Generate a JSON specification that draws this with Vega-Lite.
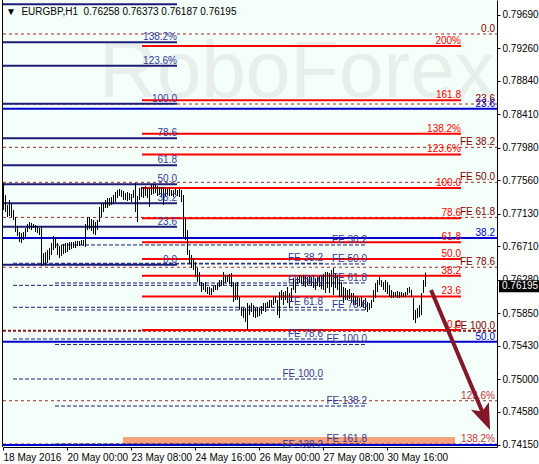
{
"$schema": "https://vega.github.io/schema/vega-lite/v6.json",
"width": 494, "height": 447,
"autosize": {"type": "none"},
"padding": {"left": 3, "top": 0, "right": 42, "bottom": 17},
"background": "#ffffff",
"config": {"view": {"fill": "#F5FFFA", "stroke": null}, "font": "Liberation Sans", "axis": {"grid": false, "labelOverlap": false, "labelFlush": false, "labelBound": false}},
"datasets": {
"bars": [
{"t":0,"h":0.77525,"l":0.77177},{"t":1,"h":0.77371,"l":0.77151},{"t":2,"h":0.77242,"l":0.77087},{"t":3,"h":0.77306,"l":0.77100},{"t":4,"h":0.77267,"l":0.77087},{"t":5,"h":0.77177,"l":0.77049},{"t":6,"h":0.77087,"l":0.76894},{"t":7,"h":0.76971,"l":0.76842},{"t":8,"h":0.76894,"l":0.76765},{"t":9,"h":0.76881,"l":0.76752},
{"t":10,"h":0.76894,"l":0.76791},{"t":11,"h":0.76945,"l":0.76829},{"t":12,"h":0.76997,"l":0.76894},{"t":13,"h":0.77023,"l":0.76932},{"t":14,"h":0.77010,"l":0.76920},{"t":15,"h":0.76997,"l":0.76945},{"t":16,"h":0.76984,"l":0.76894},{"t":17,"h":0.76971,"l":0.76881},{"t":18,"h":0.76945,"l":0.76855},{"t":19,"h":0.76971,"l":0.76455},
{"t":20,"h":0.76623,"l":0.76468},{"t":21,"h":0.76636,"l":0.76468},{"t":22,"h":0.76662,"l":0.76494},{"t":23,"h":0.76687,"l":0.76533},{"t":24,"h":0.76752,"l":0.76597},{"t":25,"h":0.76842,"l":0.76662},{"t":26,"h":0.76829,"l":0.76687},{"t":27,"h":0.76752,"l":0.76597},{"t":28,"h":0.76713,"l":0.76558},{"t":29,"h":0.76726,"l":0.76584},
{"t":30,"h":0.76739,"l":0.76610},{"t":31,"h":0.76752,"l":0.76623},{"t":32,"h":0.76752,"l":0.76636},{"t":33,"h":0.76765,"l":0.76662},{"t":34,"h":0.76765,"l":0.76674},{"t":35,"h":0.76765,"l":0.76687},{"t":36,"h":0.76778,"l":0.76687},{"t":37,"h":0.76778,"l":0.76713},{"t":38,"h":0.76778,"l":0.76713},{"t":39,"h":0.76791,"l":0.76726},
{"t":40,"h":0.76791,"l":0.76713},{"t":41,"h":0.76997,"l":0.76700},{"t":42,"h":0.77087,"l":0.76920},{"t":43,"h":0.77087,"l":0.76932},{"t":44,"h":0.77061,"l":0.76907},{"t":45,"h":0.77049,"l":0.76868},{"t":46,"h":0.77023,"l":0.76855},{"t":47,"h":0.77049,"l":0.76920},{"t":48,"h":0.77216,"l":0.77023},{"t":49,"h":0.77267,"l":0.77087},
{"t":50,"h":0.77267,"l":0.77151},{"t":51,"h":0.77306,"l":0.77203},{"t":52,"h":0.77332,"l":0.77203},{"t":53,"h":0.77332,"l":0.77229},{"t":54,"h":0.77345,"l":0.77242},{"t":55,"h":0.77371,"l":0.77254},{"t":56,"h":0.77409,"l":0.77280},{"t":57,"h":0.77435,"l":0.77332},{"t":58,"h":0.77448,"l":0.77358},{"t":59,"h":0.77435,"l":0.77345},
{"t":60,"h":0.77422,"l":0.77306},{"t":61,"h":0.77396,"l":0.77306},{"t":62,"h":0.77409,"l":0.77293},{"t":63,"h":0.77396,"l":0.77306},{"t":64,"h":0.77383,"l":0.77280},{"t":65,"h":0.77435,"l":0.77332},{"t":66,"h":0.77525,"l":0.77151},{"t":67,"h":0.77358,"l":0.77023},{"t":68,"h":0.77461,"l":0.77306},{"t":69,"h":0.77474,"l":0.77345},
{"t":70,"h":0.77474,"l":0.77332},{"t":71,"h":0.77487,"l":0.77358},{"t":72,"h":0.77461,"l":0.77332},{"t":73,"h":0.77461,"l":0.77216},{"t":74,"h":0.77500,"l":0.77371},{"t":75,"h":0.77512,"l":0.77383},{"t":76,"h":0.77500,"l":0.77396},{"t":77,"h":0.77487,"l":0.77358},{"t":78,"h":0.77474,"l":0.77371},{"t":79,"h":0.77474,"l":0.77345},
{"t":80,"h":0.77474,"l":0.77242},{"t":81,"h":0.77448,"l":0.77358},{"t":82,"h":0.77448,"l":0.77371},{"t":83,"h":0.77461,"l":0.77358},{"t":84,"h":0.77435,"l":0.77358},{"t":85,"h":0.77435,"l":0.77345},{"t":86,"h":0.77448,"l":0.77371},{"t":87,"h":0.77435,"l":0.77358},{"t":88,"h":0.77448,"l":0.77345},{"t":89,"h":0.77435,"l":0.77280},
{"t":90,"h":0.77371,"l":0.76816},{"t":91,"h":0.77074,"l":0.76791},{"t":92,"h":0.76920,"l":0.76597},{"t":93,"h":0.76662,"l":0.76481},{"t":94,"h":0.76597,"l":0.76429},{"t":95,"h":0.76558,"l":0.76404},{"t":96,"h":0.76507,"l":0.76313},{"t":97,"h":0.76429,"l":0.76249},{"t":98,"h":0.76378,"l":0.76210},{"t":99,"h":0.76249,"l":0.76121},
{"t":100,"h":0.76236,"l":0.76147},{"t":101,"h":0.76249,"l":0.76121},{"t":102,"h":0.76185,"l":0.76095},{"t":103,"h":0.76185,"l":0.76082},{"t":104,"h":0.76172,"l":0.76082},{"t":105,"h":0.76197,"l":0.76121},{"t":106,"h":0.76210,"l":0.76147},{"t":107,"h":0.76236,"l":0.76147},{"t":108,"h":0.76275,"l":0.76185},{"t":109,"h":0.76275,"l":0.76197},
{"t":110,"h":0.76378,"l":0.76210},{"t":111,"h":0.76339,"l":0.76236},{"t":112,"h":0.76339,"l":0.76249},{"t":113,"h":0.76352,"l":0.76223},{"t":114,"h":0.76365,"l":0.76185},{"t":115,"h":0.76249,"l":0.75992},{"t":116,"h":0.76236,"l":0.76018},{"t":117,"h":0.76249,"l":0.76018},{"t":118,"h":0.76056,"l":0.75889},{"t":119,"h":0.75927,"l":0.75811},
{"t":120,"h":0.75914,"l":0.75785},{"t":121,"h":0.75914,"l":0.75734},{"t":122,"h":0.75979,"l":0.75631},{"t":123,"h":0.75953,"l":0.75824},{"t":124,"h":0.75979,"l":0.75863},{"t":125,"h":0.75953,"l":0.75798},{"t":126,"h":0.75914,"l":0.75785},{"t":127,"h":0.75927,"l":0.75798},{"t":128,"h":0.75914,"l":0.75811},{"t":129,"h":0.75940,"l":0.75837},
{"t":130,"h":0.75979,"l":0.75876},{"t":131,"h":0.75979,"l":0.75863},{"t":132,"h":0.75992,"l":0.75914},{"t":133,"h":0.76018,"l":0.75914},{"t":134,"h":0.76018,"l":0.75927},{"t":135,"h":0.76056,"l":0.75953},{"t":136,"h":0.76069,"l":0.75979},{"t":137,"h":0.76018,"l":0.75824},{"t":138,"h":0.76121,"l":0.75785},{"t":139,"h":0.76147,"l":0.76018},
{"t":140,"h":0.76121,"l":0.75953},{"t":141,"h":0.76134,"l":0.76018},{"t":142,"h":0.76185,"l":0.75979},{"t":143,"h":0.76108,"l":0.75914},{"t":144,"h":0.76172,"l":0.75992},{"t":145,"h":0.76300,"l":0.76147},{"t":146,"h":0.76275,"l":0.76108},{"t":147,"h":0.76313,"l":0.76223},{"t":148,"h":0.76339,"l":0.76236},{"t":149,"h":0.76326,"l":0.76223},
{"t":150,"h":0.76339,"l":0.76210},{"t":151,"h":0.76326,"l":0.76185},{"t":152,"h":0.76313,"l":0.76210},{"t":153,"h":0.76326,"l":0.76223},{"t":154,"h":0.76313,"l":0.76197},{"t":155,"h":0.76326,"l":0.76172},{"t":156,"h":0.76300,"l":0.76147},{"t":157,"h":0.76313,"l":0.76197},{"t":158,"h":0.76326,"l":0.76185},{"t":159,"h":0.76339,"l":0.76159},
{"t":160,"h":0.76352,"l":0.76147},{"t":161,"h":0.76378,"l":0.76108},{"t":162,"h":0.76378,"l":0.76172},{"t":163,"h":0.76365,"l":0.76108},{"t":164,"h":0.76404,"l":0.76185},{"t":165,"h":0.76429,"l":0.76082},{"t":166,"h":0.76365,"l":0.76172},{"t":167,"h":0.76339,"l":0.76147},{"t":168,"h":0.76313,"l":0.76056},{"t":169,"h":0.76249,"l":0.76056},
{"t":170,"h":0.76185,"l":0.75979},{"t":171,"h":0.76172,"l":0.76018},{"t":172,"h":0.76147,"l":0.76018},{"t":173,"h":0.76159,"l":0.76030},{"t":174,"h":0.76108,"l":0.75979},{"t":175,"h":0.76108,"l":0.75953},{"t":176,"h":0.76069,"l":0.75953},{"t":177,"h":0.76056,"l":0.75927},{"t":178,"h":0.76043,"l":0.75940},{"t":179,"h":0.76056,"l":0.75927},
{"t":180,"h":0.76018,"l":0.75914},{"t":181,"h":0.76043,"l":0.75889},{"t":182,"h":0.75992,"l":0.75863},{"t":183,"h":0.75979,"l":0.75889},{"t":184,"h":0.76018,"l":0.75914},{"t":185,"h":0.76147,"l":0.75992},{"t":186,"h":0.76236,"l":0.76043},{"t":187,"h":0.76275,"l":0.76121},{"t":188,"h":0.76313,"l":0.76210},{"t":189,"h":0.76275,"l":0.76185},
{"t":190,"h":0.76249,"l":0.76147},{"t":191,"h":0.76275,"l":0.76121},{"t":192,"h":0.76249,"l":0.76095},{"t":193,"h":0.76210,"l":0.76056},{"t":194,"h":0.76147,"l":0.76043},{"t":195,"h":0.76121,"l":0.76043},{"t":196,"h":0.76121,"l":0.76056},{"t":197,"h":0.76134,"l":0.76043},{"t":198,"h":0.76121,"l":0.76043},{"t":199,"h":0.76121,"l":0.76056},
{"t":200,"h":0.76108,"l":0.76056},{"t":201,"h":0.76121,"l":0.76056},{"t":202,"h":0.76172,"l":0.76082},{"t":203,"h":0.76185,"l":0.76108},{"t":204,"h":0.76147,"l":0.76056},{"t":205,"h":0.76043,"l":0.75760},{"t":206,"h":0.75889,"l":0.75721},{"t":207,"h":0.75914,"l":0.75785},{"t":208,"h":0.75953,"l":0.75798},{"t":209,"h":0.76108,"l":0.75824},
{"t":210,"h":0.76275,"l":0.76108},{"t":211,"h":0.76373,"l":0.76187}
],
"levels": [
{"set":"retr","label":"","price":0.79829},{"set":"retr","label":"138.2%","price":0.79339},{"set":"retr","label":"123.6%","price":0.79036},{"set":"retr","label":"100.0","price":0.78547},{"set":"retr","label":"78.6","price":0.78103},{"set":"retr","label":"61.8","price":0.77755},{"set":"retr","label":"50.0","price":0.77510},{"set":"retr","label":"38.2","price":0.77265},{"set":"retr","label":"23.6","price":0.76962},{"set":"retr","label":"0.0","price":0.76473},
{"set":"exp","label":"200%","price":0.79290},{"set":"exp","label":"161.8","price":0.78591},{"set":"exp","label":"138.2%","price":0.78160},{"set":"exp","label":"123.6%","price":0.77893},{"set":"exp","label":"100.0","price":0.77461},{"set":"exp","label":"78.6","price":0.77070},{"set":"exp","label":"61.8","price":0.76762},{"set":"exp","label":"50.0","price":0.76547},{"set":"exp","label":"38.2","price":0.76331},{"set":"exp","label":"23.6","price":0.76064},{"set":"exp","label":"0.0","price":0.75632},
{"set":"fe","label":"0.0","price":0.79445},{"set":"fe","label":"23.6","price":0.78543},{"set":"fe","label":"FE 38.2","price":0.77985},{"set":"fe","label":"FE 50.0","price":0.77534},{"set":"fe","label":"FE 61.8","price":0.77082},{"set":"fe","label":"FE 78.6","price":0.76440},{"set":"fe","label":"FE 100.0","price":0.75622},{"set":"fe","label":"123.6%","price":0.74720},{"set":"fe","label":"138.2%","price":0.74162},
{"set":"blue","label":"23.6","price":0.78483},{"set":"blue","label":"38.2","price":0.76817},{"set":"blue","label":"50.0","price":0.75481},{"set":"blue","label":"","price":0.74150},
{"set":"feA","label":"FE 38.2","price":0.76491},{"set":"feA","label":"FE 50.0","price":0.76207},{"set":"feA","label":"FE 61.8","price":0.75924},{"set":"feA","label":"FE 78.6","price":0.75516},{"set":"feA","label":"FE 100.0","price":0.75000},{"set":"feA","label":"FE 138.2","price":0.74086},
{"set":"feB","label":"FE 38.2","price":0.76727},{"set":"feB","label":"FE 50.0","price":0.76482},{"set":"feB","label":"FE 61.8","price":0.76237},{"set":"feB","label":"FE 78.6","price":0.75889},{"set":"feB","label":"FE 100.0","price":0.75445},{"set":"feB","label":"FE 138.2","price":0.74652},{"set":"feB","label":"FE 161.8","price":0.74163}
]
},
"layer": [
{"data": {"values": [{}]}, "mark": {"type": "text", "text": "RoboForex", "font": "Liberation Sans", "fontSize": 80, "align": "left", "baseline": "alphabetic", "color": "#E7EEEB"},
 "encoding": {"x": {"datum": 48}, "y": {"datum": 0.78633}}},
{"data": {"values": [{}]}, "mark": {"type": "rect", "color": "#F5A27F"},
 "encoding": {"x": {"datum": 60}, "x2": {"datum": 226}, "y": {"datum": 0.74253}, "y2": {"datum": 0.74163}}},
{"data": {"name": "levels"}, "transform": [{"filter": "datum.set == 'fe' && datum.label != 'FE 100.0'"}],
 "mark": {"type": "rule", "color": "#9E2A2A", "strokeWidth": 1, "strokeDash": [3, 3]},
 "encoding": {"x": {"datum": 0}, "x2": {"datum": 247}, "y": {"field": "price", "type": "quantitative", "title": null}}},
{"data": {"name": "levels"}, "transform": [{"filter": "datum.set == 'fe' && datum.label == 'FE 100.0'"}],
 "mark": {"type": "rule", "color": "#8B1A1A", "strokeWidth": 2, "strokeDash": [3, 2]},
 "encoding": {"x": {"datum": 0}, "x2": {"datum": 247}, "y": {"field": "price", "type": "quantitative", "title": null}}},
{"data": {"name": "levels"}, "transform": [{"filter": "datum.set == 'blue'"}],
 "mark": {"type": "rule", "color": "#0000CD", "strokeWidth": 2},
 "encoding": {"x": {"datum": 0}, "x2": {"datum": 247}, "y": {"field": "price", "type": "quantitative", "title": null}}},
{"data": {"name": "levels"}, "transform": [{"filter": "datum.set == 'feA'"}],
 "mark": {"type": "rule", "color": "#1E1E78", "strokeWidth": 1, "strokeDash": [4, 2], "clip": true},
 "encoding": {"x": {"datum": 5}, "x2": {"datum": 160}, "y": {"field": "price", "type": "quantitative", "title": null}}},
{"data": {"name": "levels"}, "transform": [{"filter": "datum.set == 'feB'"}],
 "mark": {"type": "rule", "color": "#1E1E78", "strokeWidth": 1, "strokeDash": [4, 2], "clip": true},
 "encoding": {"x": {"datum": 26}, "x2": {"datum": 182}, "y": {"field": "price", "type": "quantitative", "title": null}}},
{"data": {"name": "levels"}, "transform": [{"filter": "datum.set == 'retr'"}],
 "mark": {"type": "rule", "color": "#1E1E78", "strokeWidth": 2},
 "encoding": {"x": {"datum": 0}, "x2": {"datum": 87}, "y": {"field": "price", "type": "quantitative", "title": null}}},
{"data": {"name": "levels"}, "transform": [{"filter": "datum.set == 'exp'"}],
 "mark": {"type": "rule", "color": "#FF0000", "strokeWidth": 2},
 "encoding": {"x": {"datum": 69.5}, "x2": {"datum": 229}, "y": {"field": "price", "type": "quantitative", "title": null}}},
{"data": {"values": [{}]}, "mark": {"type": "rule", "color": "#000000", "strokeWidth": 1, "xOffset": -0.5},
 "encoding": {"x": {"datum": 0}}},
{"data": {"name": "bars"},
 "mark": {"type": "rule", "color": "#000000", "strokeWidth": 1, "xOffset": 0.5},
 "encoding": {
  "x": {"field": "t", "type": "quantitative", "title": null,
   "scale": {"domain": [0, 247], "nice": false, "zero": false},
   "axis": {"orient": "bottom", "values": [0, 32, 64, 96, 128, 160, 192], "tickCount": 20,
    "labelExpr": "datum.value == 0 ? '18 May 2016' : datum.value == 32 ? '20 May 00:00' : datum.value == 64 ? '23 May 08:00' : datum.value == 96 ? '24 May 16:00' : datum.value == 128 ? '26 May 00:00' : datum.value == 160 ? '27 May 08:00' : '30 May 16:00'",
    "labelAlign": "left", "labelBaseline": "top", "labelPadding": 2, "tickSize": 3, "tickColor": "#000000", "domainColor": "#000000", "labelColor": "#000000",
    "labelFont": "Liberation Sans", "labelFontSize": 10, "grid": false, "labelFlush": false, "labelOverlap": false, "labelBound": false, "title": null}},
  "y": {"field": "h", "type": "quantitative", "title": null,
   "scale": {"domain": [0.74124, 0.79883], "nice": false, "zero": false},
   "axis": {"orient": "right", "values": [0.7969, 0.7926, 0.7884, 0.7841, 0.7798, 0.7756, 0.7713, 0.7671, 0.7628, 0.7585, 0.7543, 0.75, 0.7458, 0.7415], "tickCount": 30,
    "format": ".5f", "labelAlign": "left", "labelBaseline": "middle", "labelPadding": 2, "tickSize": 3, "tickColor": "#000000", "domainColor": "#000000", "labelColor": "#000000",
    "labelFont": "Liberation Sans", "labelFontSize": 10, "grid": false, "labelFlush": false, "labelOverlap": false, "labelBound": false, "title": null}},
  "y2": {"field": "l"}
 }},
{"data": {"name": "levels"}, "transform": [{"filter": "datum.set == 'retr'"}],
 "mark": {"type": "text", "align": "right", "baseline": "alphabetic", "dy": -2, "fontSize": 10, "color": "#2E3A9A"},
 "encoding": {"x": {"datum": 87}, "y": {"field": "price", "type": "quantitative", "title": null}, "text": {"field": "label"}}},
{"data": {"name": "levels"}, "transform": [{"filter": "datum.set == 'exp'"}],
 "mark": {"type": "text", "align": "right", "baseline": "alphabetic", "dy": -2, "fontSize": 10, "color": "#FF0000"},
 "encoding": {"x": {"datum": 229}, "y": {"field": "price", "type": "quantitative", "title": null}, "text": {"field": "label"}}},
{"data": {"name": "levels"}, "transform": [{"filter": "datum.set == 'fe'"}],
 "mark": {"type": "text", "align": "right", "baseline": "alphabetic", "dy": -2, "dx": -2, "fontSize": 10},
 "encoding": {"x": {"datum": 247}, "y": {"field": "price", "type": "quantitative", "title": null}, "text": {"field": "label"},
  "color": {"condition": {"test": "indexof(datum.label, '%') >= 0", "value": "#C8323C"}, "value": "#800000"}}},
{"data": {"name": "levels"}, "transform": [{"filter": "datum.set == 'blue'"}],
 "mark": {"type": "text", "align": "right", "baseline": "alphabetic", "dy": -2, "dx": -2, "fontSize": 10, "color": "#0000CC"},
 "encoding": {"x": {"datum": 247}, "y": {"field": "price", "type": "quantitative", "title": null}, "text": {"field": "label"}}},
{"data": {"name": "levels"}, "transform": [{"filter": "datum.set == 'feA'"}],
 "mark": {"type": "text", "align": "right", "baseline": "alphabetic", "dy": -2, "fontSize": 10, "color": "#3B348F"},
 "encoding": {"x": {"datum": 160}, "y": {"field": "price", "type": "quantitative", "title": null}, "text": {"field": "label"}}},
{"data": {"name": "levels"}, "transform": [{"filter": "datum.set == 'feB'"}],
 "mark": {"type": "text", "align": "right", "baseline": "alphabetic", "dy": -2, "fontSize": 10, "color": "#3B348F"},
 "encoding": {"x": {"datum": 182}, "y": {"field": "price", "type": "quantitative", "title": null}, "text": {"field": "label"}}},
{"data": {"values": [{}]}, "mark": {"type": "rule", "color": "#82182A", "strokeWidth": 4, "strokeCap": "butt"},
 "encoding": {"x": {"datum": 214}, "x2": {"datum": 241}, "y": {"datum": 0.76147}, "y2": {"datum": 0.74498}}},
{"data": {"values": [{}]}, "mark": {"type": "point", "shape": "M0,1 L-0.75,-1 L0,-0.55 L0.75,-1 Z", "filled": true, "opacity": 1, "size": 676, "angle": -23, "color": "#82182A"},
 "encoding": {"x": {"datum": 241}, "y": {"datum": 0.74498}}},
{"data": {"values": [{}]}, "mark": {"type": "text", "text": "▼\u00a0 EURGBP,H1\u00a0 0.76258 0.76373 0.76187 0.76195", "align": "left", "baseline": "alphabetic", "dx": 3, "dy": 15, "fontSize": 10, "color": "#000000"},
 "encoding": {"x": {"datum": 0}, "y": {"datum": 0.79883}}},
{"data": {"values": [{}]}, "mark": {"type": "rect", "color": "#000000", "xOffset": 2, "x2Offset": 42, "yOffset": -6, "y2Offset": 6},
 "encoding": {"x": {"datum": 247}, "x2": {"datum": 247}, "y": {"datum": 0.76195}, "y2": {"datum": 0.76195}}},
{"data": {"values": [{}]}, "mark": {"type": "text", "text": "0.76195", "align": "left", "baseline": "middle", "dx": 5, "fontSize": 10, "color": "#FFFFFF"},
 "encoding": {"x": {"datum": 247}, "y": {"datum": 0.76195}}}
]
}
